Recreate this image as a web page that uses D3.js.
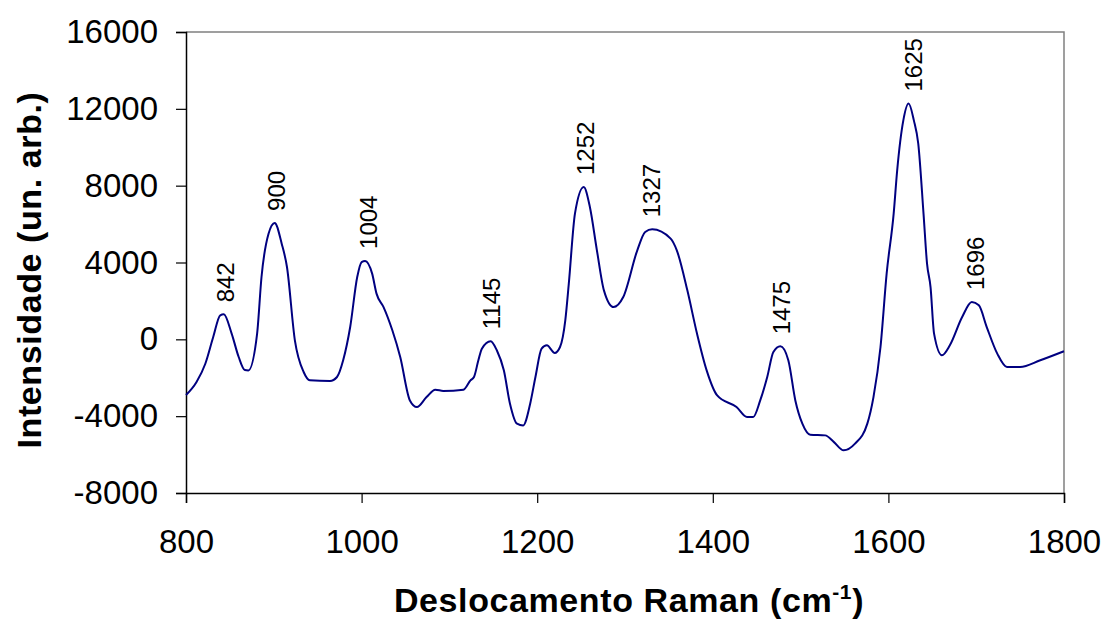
<!DOCTYPE html>
<html>
<head>
<meta charset="utf-8">
<script src="https://cdn.jsdelivr.net/npm/d3@7"></script>
<style>
  body { margin: 0; background: #fff; }
  svg { font-family: "Liberation Sans", Arial, sans-serif; }
</style>
</head>
<body>
<svg id="chart" width="1104" height="621"></svg>
<script>
// Raman spectrum
var shift = [800, 812, 822, 831, 839, 843, 852, 860, 867, 871, 881, 886, 894, 901, 909, 915, 924, 934, 941, 964,
  972, 979, 987, 995, 1000, 1004, 1012, 1017, 1025, 1035, 1044, 1055, 1063, 1074, 1084, 1093, 1116, 1124, 1128, 1133,
  1137, 1147, 1154, 1162, 1169, 1177, 1184, 1192, 1198, 1205, 1211, 1220, 1226, 1232, 1236, 1243, 1253, 1260, 1268, 1276,
  1287, 1298, 1314, 1323, 1331, 1352, 1359, 1371, 1382, 1393, 1405, 1427, 1439, 1446, 1454, 1462, 1469, 1477, 1486, 1494,
  1502, 1511, 1528, 1538, 1549, 1562, 1576, 1583, 1591, 1598, 1606, 1610, 1617, 1623, 1629, 1634, 1640, 1644, 1648, 1652,
  1661, 1670, 1684, 1695, 1703, 1712, 1724, 1735, 1750, 1773, 1800];
var intensity = [-2900, -2220, -1270, 120, 1250, 1300, 300, -920, -1600, -1620, 300, 3245, 5500, 6060, 4980, 3765, -50, -1700, -2135, -2170,
  -1960, -1090, 640, 3245, 4025, 4080, 3420, 2380, 1680, 470, -920, -3180, -3525, -3005, -2620, -2690, -2620, -2135, -1960, -1090,
  -485, -100, -570, -1615, -3350, -4390, -4480, -3350, -1960, -485, -310, -710, -400, 990, 2900, 6545, 7930, 6890, 4635, 2550,
  1680, 2200, 4635, 5590, 5730, 5245, 4635, 2550, 300, -1615, -2920, -3525, -4045, -4045, -3180, -1960, -660, -365, -1090, -3180,
  -4390, -4965, -5000, -5350, -5780, -5430, -4390, -3005, -400, 3420, 6545, 8800, 11400, 12275, 11400, 10190, 6545, 3940, 2720, 300,
  -830, -310, 1160, 1940, 1770, 640, -745, -1440, -1440, -1090, -620];

// peak labels
var peakShift = [842, 900, 1004, 1145, 1252, 1327, 1475, 1625, 1696];
var peakValue = [1300, 6060, 4080, -100, 7930, 5730, -365, 12275, 1940];

var xTicks = [800, 1000, 1200, 1400, 1600, 1800];
var yTicks = [-8000, -4000, 0, 4000, 8000, 12000, 16000];

var margin = { top: 32, right: 40, bottom: 128, left: 186 };
var width = 1104 - margin.left - margin.right;
var height = 621 - margin.top - margin.bottom;

var svg = d3.select("#chart");
var g = svg.append("g").attr("transform", "translate(" + margin.left + "," + margin.top + ")");

var x = d3.scaleLinear().domain([800, 1800]).range([0, width]);
var y = d3.scaleLinear().domain([-8000, 16000]).range([height, 0]);

// gray frame on top and right
g.append("path")
  .attr("d", "M0,0H" + width + "V" + height)
  .attr("fill", "none")
  .attr("stroke", "#808080")
  .attr("stroke-width", 1.5);

var plain = function (d) { return String(d); };  // hyphen minus like the original

var xAxis = g.append("g")
  .attr("transform", "translate(0," + height + ")")
  .call(d3.axisBottom(x).tickValues(xTicks).tickSize(10).tickPadding(27).tickFormat(plain));

var yAxis = g.append("g")
  .call(d3.axisLeft(y).tickValues(yTicks).tickSize(10).tickPadding(18).tickFormat(plain));

[xAxis, yAxis].forEach(function (a) {
  a.select(".domain").attr("stroke", "#000").attr("stroke-width", 1.5);
  a.selectAll(".tick line").attr("stroke", "#000").attr("stroke-width", 1.2);
  a.selectAll(".tick text")
    .attr("fill", "#000")
    .style("font-size", "33px")
    .style("font-family", "Liberation Sans, Arial, sans-serif");
});

var data = shift.map(function (s, i) { return [s, intensity[i]]; });

var line = d3.line()
  .x(function (d) { return x(d[0]); })
  .y(function (d) { return y(d[1]); })
  .curve(d3.curveMonotoneX);

g.append("path")
  .datum(data)
  .attr("d", line)
  .attr("fill", "none")
  .attr("stroke", "#000080")
  .attr("stroke-width", 2);

// vertical peak labels
g.selectAll(".peak")
  .data(peakShift)
  .join("text")
  .attr("class", "peak")
  .attr("transform", function (d, i) {
    return "translate(" + (x(d) + 3) + "," + (y(peakValue[i]) - 12) + ") rotate(-90)";
  })
  .attr("dy", "0.35em")
  .attr("text-anchor", "start")
  .style("font-size", "24px")
  .attr("fill", "#000")
  .text(function (d) { return d; });

// axis titles
var xt = svg.append("text")
  .attr("x", margin.left + width / 2 + 4)
  .attr("y", 612)
  .attr("text-anchor", "middle")
  .style("font-size", "34px")
  .style("letter-spacing", "0.6px")
  .style("font-weight", "bold");
xt.append("tspan").text("Deslocamento Raman (cm");
xt.append("tspan").attr("dy", "-13").style("font-size", "21px").text("-1");
xt.append("tspan").attr("dy", "13").text(")");

svg.append("text")
  .attr("transform", "translate(29,270) rotate(-90)")
  .attr("dy", "0.35em")
  .attr("text-anchor", "middle")
  .style("font-size", "34px")
  .style("letter-spacing", "0.6px")
  .style("font-weight", "bold")
  .text("Intensidade (un. arb.)");
</script>
</body>
</html>
